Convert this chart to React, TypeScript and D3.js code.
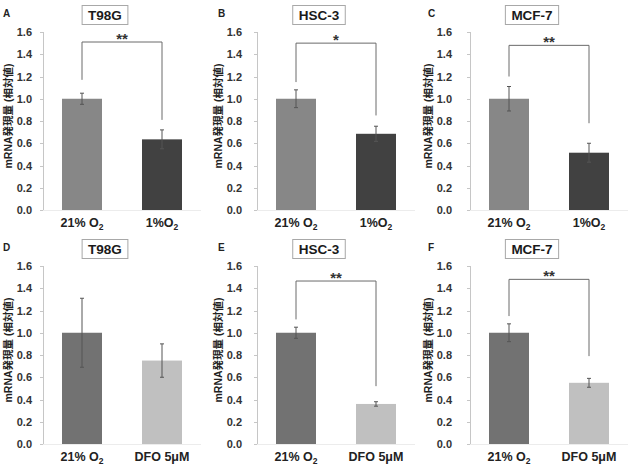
import React, { useEffect, useRef } from 'react';
import * as d3 from 'd3';

// panel contents, A-C hypoxia, D-F DFO treatment
const panelLetters = ['A', 'B', 'C', 'D', 'E', 'F'];
const cellLines = ['T98G', 'HSC-3', 'MCF-7', 'T98G', 'HSC-3', 'MCF-7'];
const hypoxiaGroups = ['21% O2', '1%O2'];
const dfoGroups = ['21% O2', 'DFO 5μM'];
const yTicks = [0, 0.2, 0.4, 0.6, 0.8, 1.0, 1.2, 1.4, 1.6];

const hypoxiaMeans = [
  [1.0, 0.635],
  [1.0, 0.685],
  [1.0, 0.515],
];
const hypoxiaErrors = [
  [0.05, 0.085],
  [0.08, 0.068],
  [0.11, 0.085],
];
const dfoMeans = [
  [1.0, 0.75],
  [1.0, 0.36],
  [1.0, 0.55],
];
const dfoErrors = [
  [0.31, 0.15],
  [0.05, 0.02],
  [0.08, 0.04],
];

// significance brackets: label, top level, left leg end, right leg end
const sigLabels = ['**', '*', '**', '', '**', '**'];
const bracketTop = [1.51, 1.5, 1.48, 0, 1.465, 1.48];
const bracketLeft = [1.17, 1.15, 1.2, 0, 1.12, 1.15];
const bracketRight = [0.81, 0.85, 0.78, 0, 0.52, 0.79];

const yLabel = 'mRNA発現量 (相対値)';

const W = 638;
const H = 466;
const colX = [0, 210, 420];
const axisOffset = [43, 47, 50];
const rowBase = [210, 444];
const plotH = 178;
const FONT = "'Liberation Sans', Arial, 'Noto Sans CJK JP', sans-serif";

function App() {
  const svgRef = useRef<SVGSVGElement>(null);

  useEffect(() => {
    const svg = d3.select(svgRef.current);
    svg.selectAll('*').remove();

    panelLetters.forEach((letter, i) => {
      const row = Math.floor(i / 3);
      const col = i % 3;
      const groups = row === 0 ? hypoxiaGroups : dfoGroups;
      const means = row === 0 ? hypoxiaMeans[col] : dfoMeans[col];
      const errs = row === 0 ? hypoxiaErrors[col] : dfoErrors[col];
      const fills = row === 0 ? ['#878787', '#414141'] : ['#727272', '#c0c0c0'];

      const ax = colX[col] + axisOffset[col];
      const y0 = rowBase[row];

      const y = d3.scaleLinear().domain([0, 1.6]).range([y0, y0 - plotH]);
      const x = d3
        .scaleBand()
        .domain(groups)
        .range([ax, ax + 158])
        .paddingInner(0.5)
        .paddingOuter(0.2375);

      const g = svg.append('g');

      // panel letter
      g.append('text')
        .attr('x', colX[col] + (col === 0 ? 3 : 8))
        .attr('y', y0 - 193)
        .attr('font-size', 10)
        .attr('font-weight', 'bold')
        .attr('fill', '#222')
        .text(letter);

      // boxed cell line title
      const cx = ax + 62;
      const cy = y0 - 195;
      const title = g
        .append('text')
        .attr('x', cx)
        .attr('y', cy + 5)
        .attr('text-anchor', 'middle')
        .attr('font-size', 13.5)
        .attr('font-weight', 'bold')
        .attr('fill', '#1a1a1a')
        .text(cellLines[i]);
      const tw = (title.node() as SVGTextElement).getComputedTextLength();
      g.insert('rect', 'text:last-child')
        .attr('x', cx - tw / 2 - 6)
        .attr('y', cy - 9.5)
        .attr('width', tw + 12)
        .attr('height', 19)
        .attr('fill', '#fff')
        .attr('stroke', '#a8a8a8')
        .attr('stroke-width', 1);

      // y axis
      g.append('line')
        .attr('x1', ax + 0.5)
        .attr('x2', ax + 0.5)
        .attr('y1', y(1.6))
        .attr('y2', y(0))
        .attr('stroke', '#c6c6c6');
      g.selectAll('.tick')
        .data(yTicks)
        .enter()
        .append('line')
        .attr('x1', ax - 3)
        .attr('x2', ax)
        .attr('y1', (d) => Math.round(y(d)) + 0.5)
        .attr('y2', (d) => Math.round(y(d)) + 0.5)
        .attr('stroke', '#c6c6c6');
      g.selectAll('.ticklabel')
        .data(yTicks)
        .enter()
        .append('text')
        .attr('x', colX[col] + 32)
        .attr('y', (d) => y(d) + 4)
        .attr('text-anchor', 'end')
        .attr('font-size', 11)
        .attr('font-weight', 'bold')
        .attr('fill', '#333')
        .text((d) => d.toFixed(1));

      // baseline
      g.append('line')
        .attr('x1', ax)
        .attr('x2', ax + 158)
        .attr('y1', y0 + 0.5)
        .attr('y2', y0 + 0.5)
        .attr('stroke', '#ececec');

      // y label
      g.append('text')
        .attr('transform', `translate(${colX[col] + 11.5}, ${y0 - 94}) rotate(-90)`)
        .attr('text-anchor', 'middle')
        .attr('font-size', 10.5)
        .attr('font-weight', 'bold')
        .attr('fill', '#222')
        .text(yLabel);

      // bars
      groups.forEach((grp, j) => {
        g.append('rect')
          .attr('x', x(grp)!)
          .attr('y', y(means[j]))
          .attr('width', x.bandwidth())
          .attr('height', y0 - y(means[j]))
          .attr('fill', fills[j]);

        const mx = x(grp)! + x.bandwidth() / 2;
        const hi = y(means[j] + errs[j]);
        const lo = y(means[j] - errs[j]);
        g.append('line')
          .attr('x1', mx)
          .attr('x2', mx)
          .attr('y1', hi)
          .attr('y2', lo)
          .attr('stroke', '#555')
          .attr('stroke-width', 1);
        [hi, lo].forEach((yy) =>
          g
            .append('line')
            .attr('x1', mx - 2)
            .attr('x2', mx + 2)
            .attr('y1', yy)
            .attr('y2', yy)
            .attr('stroke', '#555')
            .attr('stroke-width', 1)
        );

        // category label, with O2 subscript
        const lab = g
          .append('text')
          .attr('x', mx)
          .attr('y', y0 + 17)
          .attr('text-anchor', 'middle')
          .attr('font-size', 12.5)
          .attr('font-weight', 'bold')
          .attr('fill', '#222');
        const m = grp.match(/^(.*O)2$/);
        if (m) {
          lab.append('tspan').text(m[1]);
          lab.append('tspan').attr('font-size', 8.5).attr('dy', 3).text('2');
        } else {
          lab.text(grp);
        }
      });

      // significance bracket
      if (sigLabels[i]) {
        const xl = x(groups[0])! + x.bandwidth() / 2;
        const xr = x(groups[1])! + x.bandwidth() / 2;
        const path = d3.path();
        path.moveTo(xl, y(bracketLeft[i]));
        path.lineTo(xl, y(bracketTop[i]));
        path.lineTo(xr, y(bracketTop[i]));
        path.lineTo(xr, y(bracketRight[i]));
        g.append('path')
          .attr('d', path.toString())
          .attr('fill', 'none')
          .attr('stroke', '#6a6a6a')
          .attr('stroke-width', 1);
        g.append('text')
          .attr('x', (xl + xr) / 2)
          .attr('y', y(bracketTop[i]) + 1.5)
          .attr('text-anchor', 'middle')
          .attr('font-size', 15)
          .attr('font-weight', 'bold')
          .attr('fill', '#333')
          .text(sigLabels[i]);
      }
    });
  }, []);

  return (
    <svg
      ref={svgRef}
      width={W}
      height={H}
      style={{ position: 'absolute', left: 0, top: 0, background: '#fff', fontFamily: FONT }}
    />
  );
}

export default App;
